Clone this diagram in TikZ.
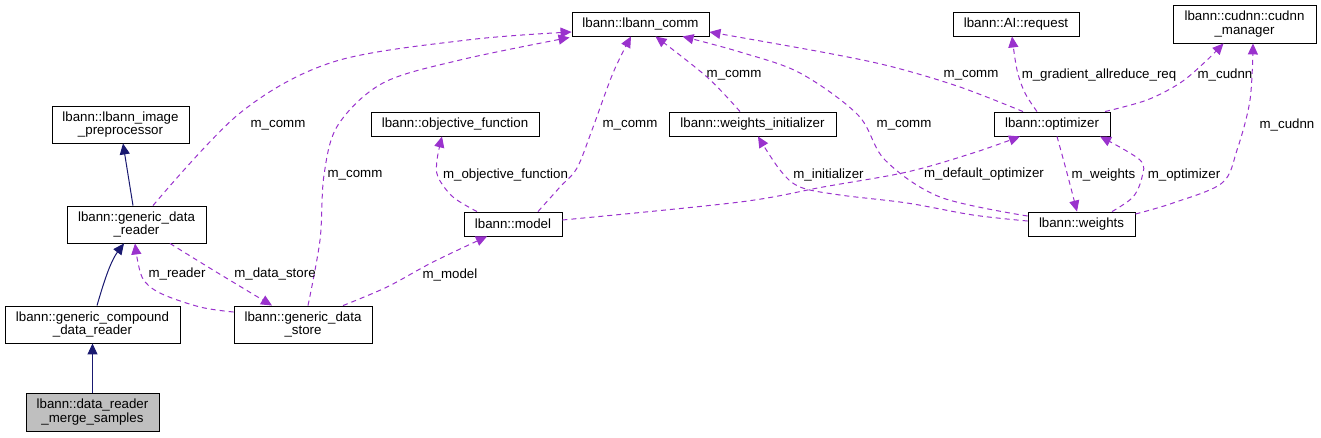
\documentclass[tikz,border=0pt]{standalone}
\usepackage{fontspec}
\setmainfont{Liberation Sans}
\usetikzlibrary{arrows.meta,calc}
\definecolor{navyb}{HTML}{191970}
\definecolor{orch}{HTML}{9A32CD}
\definecolor{greyfill}{HTML}{BFBFBF}
\newcommand\dgfont{\fontsize{13.3pt}{13.6pt}\selectfont}
\begin{document}
\begin{tikzpicture}[x=1pt,y=-1pt,
  cls/.style={draw=black, line width=0.9pt, inner sep=0pt, minimum height=24pt, align=center, font=\dgfont},
  cls2/.style={cls, minimum height=37pt},
  inh/.style={draw=navyb, line width=1pt, -{Triangle[length=11pt,width=10pt]}},
  ref/.style={draw=orch, line width=1pt, dash pattern=on 5pt off 4pt, -{Triangle[length=11pt,width=10pt]}},
  lbl/.style={font=\dgfont, inner sep=0pt}]
\useasboundingbox (0,0) rectangle (1321,437);
% nodes
\node[cls, minimum width=137pt] (comm) at (640.5,24) {lbann::lbann\_comm};
\node[cls, minimum width=126pt] (AIreq) at (1016,24) {lbann::AI::request};
\node[cls2, minimum width=143pt, minimum height=38pt] (cudnn) at (1244.5,24) {lbann::cudnn::cudnn\\\_manager};
\node[cls2, minimum width=137pt] (imgpre) at (120.5,124.5) {lbann::lbann\_image\\\_preprocessor};
\node[cls, minimum width=168pt] (objf) at (455,124) {lbann::objective\_function};
\node[cls, minimum width=167pt] (winit) at (752.5,124) {lbann::weights\_initializer};
\node[cls, minimum width=116pt] (opt) at (1052,124) {lbann::optimizer};
\node[cls2, minimum width=139pt] (gdr) at (136.5,224.5) {lbann::generic\_data\\\_reader};
\node[cls, minimum width=98pt] (model) at (513,224) {lbann::model};
\node[cls, minimum width=107pt] (weights) at (1081.5,224) {lbann::weights};
\node[cls2, minimum width=175pt] (compound) at (92.5,324.5) {lbann::generic\_compound\\\_data\_reader};
\node[cls2, minimum width=138pt] (gds) at (303,324.5) {lbann::generic\_data\\\_store};
\node[cls2, minimum width=133pt, minimum height=38pt, fill=greyfill] (merge) at (92.5,412) {lbann::data\_reader\\\_merge\_samples};
% endpoint coordinates
\coordinate (e1s) at ($(gdr.north)+(-3.5,0)$);
\coordinate (e1t) at ($(imgpre.south)+(2.5,0)$);
\coordinate (e2s) at ($(compound.north)+(4.5,0)$);
\coordinate (e2t) at ($(gdr.south)+(-12.5,0)$);
\coordinate (e4s) at ($(gdr.north)+(16.5,0)$);
\coordinate (e4t) at ($(comm.west)+(0,8)$);
\coordinate (e5s) at ($(gds.north)+(5,0)$);
\coordinate (e5t) at ($(comm.south west)+(-2,1)$);
\coordinate (e6s) at ($(model.north)+(25,0)$);
\coordinate (e6t) at ($(comm.south)+(-9.5,0)$);
\coordinate (e7s) at ($(winit.north)+(-12.5,0)$);
\coordinate (e7t) at ($(comm.south)+(15,0)$);
\coordinate (e8s) at ($(weights.west)+(0,-8)$);
\coordinate (e8t) at ($(comm.south)+(42,0)$);
\coordinate (e9s) at ($(opt.north)+(-29,0)$);
\coordinate (e9t) at ($(comm.east)+(0,8)$);
\coordinate (e10s) at ($(opt.north)+(-15,0)$);
\coordinate (e10t) at ($(AIreq.south)+(-4,0)$);
\coordinate (e11s) at ($(opt.north)+(53,0)$);
\coordinate (e11t) at ($(cudnn.south)+(-21,0)$);
\coordinate (e12s) at ($(weights.east)+(0,-10)$);
\coordinate (e12t) at ($(cudnn.south)+(8.5,0)$);
\coordinate (e13s) at ($(model.north)+(-36,0)$);
\coordinate (e13t) at ($(objf.south)+(-13,0)$);
\coordinate (e14s) at ($(weights.west)+(0,-3)$);
\coordinate (e14t) at ($(winit.south)+(5.5,0)$);
\coordinate (e15s) at ($(model.east)+(0,-4)$);
\coordinate (e15t) at ($(opt.south)+(-32,0)$);
\coordinate (e16s) at ($(opt.south)+(5,0)$);
\coordinate (e16t) at ($(weights.north)+(-4.5,0)$);
\coordinate (e17s) at ($(weights.north)+(30.5,0)$);
\coordinate (e17t) at ($(opt.south)+(48,0)$);
\coordinate (e18s) at ($(gdr.south)+(33.5,0)$);
\coordinate (e18t) at ($(gds.north)+(-31,0)$);
\coordinate (e19s) at ($(gds.west)+(0,-12.5)$);
\coordinate (e19t) at ($(gdr.south)+(-1.5,0)$);
\coordinate (e20s) at ($(gds.north)+(40,0)$);
\coordinate (e20t) at ($(model.south)+(-26,0)$);
% inheritance
\draw[inh] (e1s) -- (e1t);
\draw[inh] (e2s) .. controls (103,285) and (110,262) .. (e2t);
\draw[inh] (merge.north) -- (compound.south);
% references
\draw[ref] plot[smooth, tension=0.55] coordinates {(e4s) (240,113) (333,62) (467,40) (e4t)};
\draw[ref] plot[smooth, tension=0.55] coordinates {(e5s) (320,240) (324,175) (338,125) (383,83) (460,60) (e5t)};
\draw[ref] plot[smooth, tension=0.55] coordinates {(e6s) (560,187) (577,168) (592,130) (613,73) (e6t)};
\draw[ref] plot[smooth, tension=0.55] coordinates {(e7s) (707,77) (e7t)};
\draw[ref] plot[smooth, tension=0.55] coordinates {(e8s) (940,197) (885,160) (858,115) (800,73) (740,52) (e8t)};
\draw[ref] plot[smooth, tension=0.55] coordinates {(e9s) (960,87) (893,67) (827,53) (e9t)};
\draw[ref] plot[smooth, tension=0.55] coordinates {(e10s) (1025,93) (1017,70) (e10t)};
\draw[ref] plot[smooth, tension=0.55] coordinates {(e11s) (1147,100) (1180,83) (1205,62) (e11t)};
\draw[ref] plot[smooth, tension=0.55] coordinates {(e12s) (1173,203) (1222,183) (1237,150) (1250,100) (e12t)};
\draw[ref] plot[smooth, tension=0.55] coordinates {(e13s) (453,197) (438,177) (437,160) (e13t)};
\draw[ref] plot[smooth, tension=0.55] coordinates {(e14s) (973,215) (907,203) (840,195) (800,187) (780,170) (e14t)};
\draw[ref] plot[smooth, tension=0.55] coordinates {(e15s) (740,202) (823,187) (907,172) (973,153) (e15t)};
\draw[ref] plot[smooth, tension=0.55] coordinates {(e16s) (1067,173) (e16t)};
\draw[ref] plot[smooth, tension=0.55] coordinates {(e17s) (1133,197) (1142,177) (1140,160) (e17t)};
\draw[ref] plot[smooth, tension=0.55] coordinates {(e18s) (213,270) (e18t)};
\draw[ref] plot[smooth, tension=0.55] coordinates {(e19s) (200,307) (160,293) (142,277) (e19t)};
\draw[ref] plot[smooth, tension=0.55] coordinates {(e20s) (387,287) (433,262) (e20t)};
% labels
\node[lbl] (l4) at (278,125) {m\_comm};
\node[lbl] (l5) at (355,175) {m\_comm};
\node[lbl] (l13) at (505.5,175) {m\_objective\_function};
\node[lbl] (l6) at (630,125) {m\_comm};
\node[lbl] (l7) at (734,75) {m\_comm};
\node[lbl] (l8) at (904,125) {m\_comm};
\node[lbl] (l14) at (828.5,175) {m\_initializer};
\node[lbl] (l9) at (971,75) {m\_comm};
\node[lbl] (l10) at (1099,75) {m\_gradient\_allreduce\_req};
\node[lbl] (l11) at (1225,75) {m\_cudnn};
\node[lbl] (l12) at (1287,125) {m\_cudnn};
\node[lbl] (l15) at (984,174) {m\_default\_optimizer};
\node[lbl] (l16) at (1103.5,175) {m\_weights};
\node[lbl] (l17) at (1184,175) {m\_optimizer};
\node[lbl] (l18) at (275,274) {m\_data\_store};
\node[lbl] (l19) at (177,274) {m\_reader};
\node[lbl] (l20) at (450,275) {m\_model};
\end{tikzpicture}
\end{document}
